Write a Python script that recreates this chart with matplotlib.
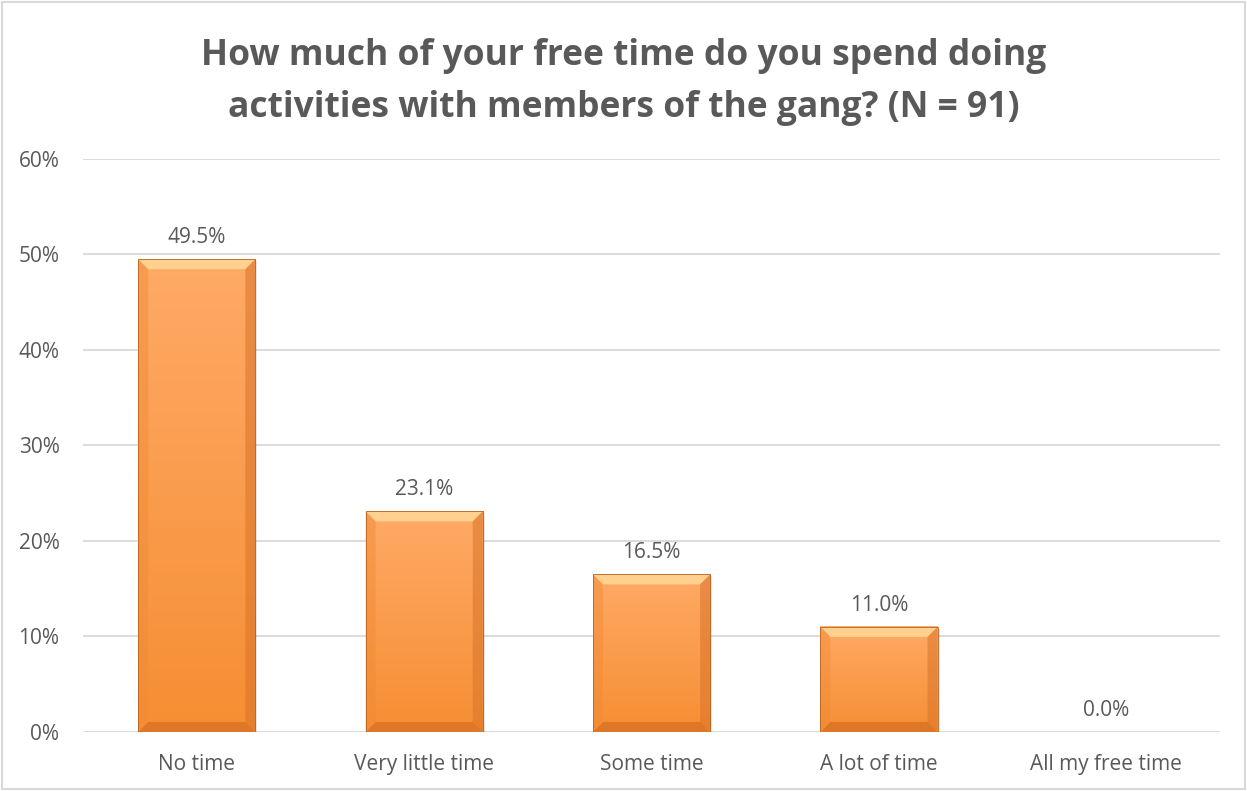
import numpy as np
import matplotlib
matplotlib.use('Agg')
import matplotlib.pyplot as plt
from matplotlib.patches import Polygon, Rectangle
from matplotlib.colors import LinearSegmentedColormap

categories = ['No time', 'Very little time', 'Some time', 'A lot of time', 'All my free time']
values = [49.5, 23.1, 16.5, 11.0, 0.0]
yticks = [0, 10, 20, 30, 40, 50, 60]
title = 'How much of your free time do you spend doing\nactivities with members of the gang? (N = 91)'

plt.rcParams['font.family'] = ['Open Sans', 'DejaVu Sans']
grey = '#595959'

fig = plt.figure(figsize=(12.47, 7.91), dpi=100)
ax = fig.add_axes([0.0666, 0.0746, 0.9118, 0.7244])

x = np.arange(len(categories))
width = 0.515
ax.set_xlim(-0.5, len(categories) - 0.5)
ax.set_ylim(0, 60)

# px -> data conversions for the bevel
fig.canvas.draw()
bb = ax.get_window_extent()
dx = 5.0 / bb.width
dy = 60.0 / bb.height
bev = 10

grad = LinearSegmentedColormap.from_list('bar', ['#F68E33', '#FFAA66'])
gimg = np.linspace(0, 1, 256).reshape(-1, 1)

for xi, v in zip(x, values):
    if v <= 0:
        continue
    x0, x1 = xi - width / 2, xi + width / 2
    # soft shadow
    ax.add_patch(Rectangle((x0 + 2 * dx, -2 * dy), width, v, color='#000000',
                           alpha=0.10, lw=0, zorder=2))
    ax.imshow(gimg, extent=(x0, x1, 0, v), origin='lower', cmap=grad,
              aspect='auto', zorder=3, interpolation='bilinear')
    bx, by = bev * dx, bev * dy
    # top bevel (light)
    ax.add_patch(Polygon([(x0, v), (x1, v), (x1 - bx, v - by), (x0 + bx, v - by)],
                         closed=True, color='#FFD08E', lw=0, zorder=4))
    # bottom bevel (dark)
    ax.add_patch(Polygon([(x0, 0), (x1, 0), (x1 - bx, by), (x0 + bx, by)],
                         closed=True, color='#DE7826', lw=0, zorder=4))
    # side bevels, close to the face colour
    ax.add_patch(Polygon([(x0, 0), (x0, v), (x0 + bx, v - by), (x0 + bx, by)],
                         closed=True, color='#F08A35', lw=0, zorder=4, alpha=0.45))
    ax.add_patch(Polygon([(x1, 0), (x1, v), (x1 - bx, v - by), (x1 - bx, by)],
                         closed=True, color='#D8742A', lw=0, zorder=4, alpha=0.55))
    ax.add_patch(Rectangle((x0, 0), width, v, fill=False, ec='#B86420',
                           lw=0.6, zorder=5))

for xi, v in zip(x, values):
    ax.annotate('{:.1f}%'.format(v), (xi, v), xytext=(0, 8), textcoords='offset points',
                ha='center', va='bottom', fontsize=15, color=grey)

ax.set_yticks(yticks)
ax.set_yticklabels(['{}%'.format(t) for t in yticks])
ax.set_xticks(x)
ax.set_xticklabels(categories)
ax.tick_params(axis='both', length=0, labelsize=15, labelcolor=grey)
ax.tick_params(axis='y', pad=17)
ax.tick_params(axis='x', pad=16)
ax.grid(axis='y', color='#D9D9D9', lw=1.3, zorder=0)
ax.set_axisbelow(True)
for s in ax.spines.values():
    s.set_visible(False)

fig.text(0.5, 0.896, title, ha='center', va='center', fontsize=25.5,
         fontweight='bold', color=grey, linespacing=1.6)

fig.patches.append(Rectangle((0.002, 0.002), 0.996, 0.996, transform=fig.transFigure,
                             fill=False, ec='#D9D9D9', lw=1.5))

fig.savefig('out.png', dpi=100)
